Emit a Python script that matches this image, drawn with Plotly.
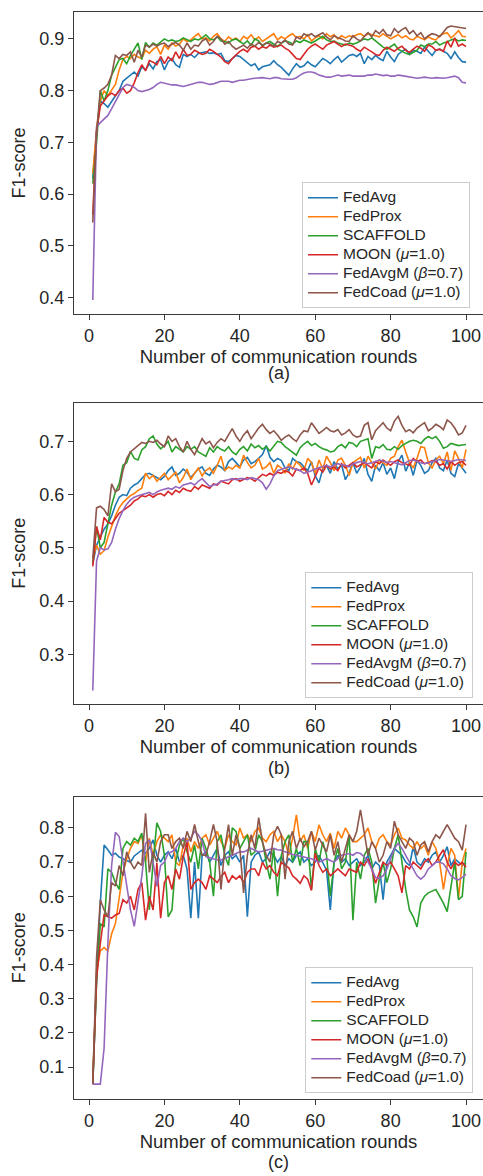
import plotly.graph_objects as go

rounds = list(range(1, 101))
series_names = ["FedAvg", "FedProx", "SCAFFOLD", "MOON (<i>μ</i>=1.0)",
                "FedAvgM (<i>β</i>=0.7)", "FedCoad (<i>μ</i>=1.0)"]
colors = ["#1f77b4", "#ff7f0e", "#2ca02c", "#d62728", "#9467bd", "#8c564b"]
panel_labels = ["(a)", "(b)", "(c)"]
x_ticks = [0, 20, 40, 60, 80, 100]
y_ticks_a = [0.4, 0.5, 0.6, 0.7, 0.8, 0.9]
y_ticks_b = [0.3, 0.4, 0.5, 0.6, 0.7]
y_ticks_c = [0.1, 0.2, 0.3, 0.4, 0.5, 0.6, 0.7, 0.8]

# ---------------- panel (a) ----------------
a_fedavg = [0.630,0.720,0.780,0.775,0.768,0.780,0.790,0.800,0.818,0.824,
            0.830,0.836,0.828,0.846,0.840,0.852,0.842,0.856,0.860,0.840,
            0.856,0.862,0.850,0.845,0.870,0.866,0.870,0.864,0.872,0.874,
            0.875,0.872,0.873,0.870,0.872,0.858,0.856,0.862,0.868,0.866,
            0.860,0.855,0.848,0.852,0.840,0.846,0.848,0.850,0.858,0.850,
            0.845,0.838,0.830,0.842,0.852,0.845,0.848,0.856,0.850,0.846,
            0.855,0.862,0.858,0.852,0.860,0.866,0.855,0.862,0.868,0.870,
            0.866,0.872,0.852,0.866,0.860,0.868,0.862,0.858,0.876,0.865,
            0.856,0.870,0.876,0.880,0.870,0.878,0.876,0.872,0.884,0.876,
            0.868,0.878,0.880,0.876,0.872,0.862,0.875,0.864,0.856,0.855]
a_fedprox = [0.640,0.725,0.780,0.800,0.790,0.800,0.812,0.840,0.860,0.866,
             0.862,0.870,0.865,0.862,0.878,0.872,0.880,0.885,0.870,0.888,
             0.880,0.892,0.886,0.890,0.900,0.895,0.898,0.905,0.910,0.900,
             0.902,0.896,0.905,0.910,0.900,0.895,0.904,0.898,0.902,0.895,
             0.905,0.900,0.908,0.898,0.904,0.895,0.900,0.906,0.910,0.898,
             0.904,0.900,0.906,0.910,0.902,0.905,0.900,0.908,0.896,0.902,
             0.906,0.900,0.910,0.904,0.908,0.900,0.906,0.902,0.906,0.904,
             0.908,0.910,0.905,0.910,0.908,0.906,0.904,0.910,0.905,0.900,
             0.904,0.908,0.902,0.906,0.900,0.898,0.905,0.902,0.898,0.904,
             0.900,0.898,0.906,0.910,0.912,0.902,0.908,0.916,0.905,0.904]
a_scaffold = [0.620,0.700,0.800,0.780,0.800,0.830,0.845,0.860,0.862,0.852,
              0.868,0.880,0.892,0.860,0.893,0.884,0.892,0.888,0.895,0.900,
              0.896,0.898,0.895,0.897,0.902,0.898,0.895,0.900,0.898,0.902,
              0.908,0.900,0.898,0.904,0.896,0.895,0.892,0.898,0.900,0.895,
              0.890,0.896,0.888,0.900,0.896,0.886,0.892,0.895,0.890,0.885,
              0.892,0.896,0.894,0.890,0.896,0.893,0.898,0.895,0.892,0.896,
              0.900,0.905,0.898,0.895,0.896,0.892,0.890,0.888,0.892,0.890,
              0.892,0.896,0.900,0.898,0.902,0.896,0.890,0.884,0.880,0.885,
              0.890,0.880,0.876,0.872,0.870,0.874,0.878,0.888,0.885,0.890,
              0.890,0.895,0.888,0.892,0.894,0.898,0.900,0.896,0.898,0.897]
a_moon = [0.560,0.720,0.770,0.780,0.790,0.795,0.790,0.800,0.805,0.795,
          0.800,0.815,0.835,0.850,0.838,0.858,0.855,0.850,0.866,0.852,
          0.865,0.858,0.875,0.862,0.880,0.868,0.870,0.878,0.874,0.870,
          0.872,0.880,0.876,0.870,0.865,0.856,0.852,0.862,0.870,0.876,
          0.880,0.875,0.884,0.886,0.880,0.885,0.882,0.888,0.884,0.886,
          0.888,0.882,0.878,0.870,0.862,0.860,0.870,0.880,0.886,0.890,
          0.885,0.880,0.888,0.892,0.895,0.890,0.885,0.890,0.888,0.886,
          0.880,0.876,0.884,0.880,0.875,0.870,0.868,0.878,0.884,0.880,
          0.876,0.882,0.886,0.878,0.874,0.880,0.886,0.882,0.876,0.888,
          0.885,0.878,0.880,0.876,0.896,0.884,0.902,0.886,0.890,0.885]
a_avgm = [0.395,0.730,0.738,0.745,0.752,0.765,0.778,0.792,0.806,0.812,
          0.810,0.806,0.800,0.798,0.800,0.802,0.806,0.812,0.816,0.814,
          0.812,0.811,0.811,0.810,0.808,0.810,0.812,0.814,0.816,0.816,
          0.814,0.812,0.813,0.815,0.818,0.818,0.818,0.816,0.818,0.820,
          0.820,0.822,0.823,0.824,0.825,0.825,0.824,0.823,0.825,0.825,
          0.823,0.822,0.822,0.822,0.825,0.830,0.834,0.836,0.836,0.834,
          0.830,0.828,0.826,0.826,0.828,0.830,0.828,0.829,0.830,0.828,
          0.828,0.827,0.828,0.830,0.830,0.832,0.830,0.829,0.830,0.828,
          0.828,0.830,0.829,0.828,0.826,0.826,0.824,0.825,0.826,0.825,
          0.824,0.825,0.824,0.824,0.825,0.826,0.828,0.825,0.816,0.815]
a_coad = [0.545,0.720,0.800,0.805,0.812,0.830,0.868,0.862,0.870,0.868,
          0.875,0.855,0.878,0.865,0.888,0.884,0.890,0.886,0.890,0.892,
          0.885,0.890,0.893,0.888,0.878,0.892,0.880,0.888,0.886,0.896,
          0.900,0.888,0.895,0.905,0.900,0.890,0.895,0.886,0.880,0.884,
          0.888,0.882,0.890,0.886,0.893,0.888,0.892,0.890,0.886,0.895,
          0.892,0.898,0.890,0.888,0.904,0.900,0.910,0.906,0.910,0.904,
          0.908,0.912,0.904,0.898,0.906,0.902,0.900,0.896,0.895,0.906,
          0.900,0.896,0.905,0.912,0.904,0.916,0.910,0.918,0.908,0.906,
          0.920,0.912,0.918,0.922,0.910,0.916,0.906,0.912,0.900,0.906,
          0.910,0.908,0.904,0.912,0.922,0.925,0.924,0.922,0.921,0.920]

# ---------------- panel (b) ----------------
b_fedavg = [0.470,0.505,0.520,0.535,0.545,0.560,0.580,0.595,0.600,0.598,
            0.612,0.618,0.622,0.630,0.638,0.640,0.636,0.632,0.628,0.634,
            0.645,0.652,0.636,0.640,0.648,0.642,0.632,0.640,0.648,0.652,
            0.640,0.636,0.648,0.655,0.652,0.645,0.662,0.668,0.660,0.652,
            0.665,0.670,0.658,0.662,0.668,0.675,0.692,0.670,0.662,0.668,
            0.664,0.650,0.645,0.668,0.662,0.660,0.652,0.645,0.662,0.635,
            0.622,0.648,0.655,0.640,0.662,0.648,0.656,0.628,0.641,0.660,
            0.640,0.652,0.668,0.638,0.625,0.655,0.645,0.660,0.638,0.650,
            0.630,0.662,0.674,0.644,0.660,0.636,0.664,0.655,0.640,0.645,
            0.660,0.668,0.650,0.645,0.665,0.640,0.634,0.658,0.650,0.640]
b_fedprox = [0.480,0.505,0.488,0.495,0.520,0.540,0.560,0.575,0.585,0.592,
             0.598,0.602,0.608,0.612,0.640,0.630,0.636,0.625,0.632,0.640,
             0.628,0.635,0.642,0.622,0.632,0.648,0.628,0.640,0.650,0.635,
             0.645,0.650,0.640,0.655,0.672,0.645,0.652,0.648,0.655,0.650,
             0.674,0.660,0.650,0.655,0.668,0.648,0.652,0.660,0.640,0.655,
             0.650,0.640,0.658,0.648,0.662,0.655,0.645,0.668,0.660,0.640,
             0.665,0.648,0.672,0.660,0.645,0.665,0.668,0.655,0.636,0.660,
             0.665,0.670,0.650,0.672,0.660,0.648,0.665,0.660,0.655,0.668,
             0.672,0.690,0.702,0.680,0.660,0.650,0.668,0.690,0.688,0.660,
             0.650,0.665,0.672,0.658,0.680,0.645,0.682,0.668,0.650,0.685]
b_scaffold = [0.470,0.540,0.500,0.510,0.545,0.580,0.605,0.620,0.655,0.660,
              0.681,0.668,0.665,0.684,0.690,0.705,0.710,0.695,0.686,0.692,
              0.700,0.680,0.690,0.685,0.680,0.690,0.685,0.690,0.680,0.676,
              0.672,0.688,0.680,0.690,0.685,0.682,0.690,0.680,0.675,0.685,
              0.690,0.682,0.695,0.688,0.692,0.685,0.690,0.682,0.690,0.700,
              0.698,0.690,0.685,0.680,0.674,0.688,0.695,0.700,0.692,0.696,
              0.690,0.686,0.684,0.680,0.682,0.690,0.694,0.688,0.698,0.696,
              0.690,0.700,0.702,0.705,0.668,0.690,0.688,0.694,0.685,0.684,
              0.690,0.685,0.692,0.696,0.700,0.702,0.700,0.696,0.704,0.709,
              0.705,0.709,0.700,0.687,0.690,0.696,0.694,0.692,0.693,0.694]
b_moon = [0.465,0.540,0.515,0.557,0.548,0.545,0.555,0.565,0.570,0.575,
          0.580,0.588,0.592,0.598,0.596,0.600,0.595,0.600,0.602,0.598,
          0.606,0.600,0.608,0.604,0.612,0.608,0.606,0.615,0.610,0.618,
          0.615,0.612,0.620,0.618,0.625,0.622,0.620,0.628,0.630,0.625,
          0.628,0.632,0.630,0.625,0.632,0.638,0.635,0.640,0.636,0.642,
          0.640,0.645,0.642,0.635,0.648,0.645,0.650,0.640,0.618,0.635,
          0.650,0.642,0.655,0.648,0.652,0.645,0.658,0.650,0.655,0.660,
          0.652,0.656,0.660,0.655,0.650,0.662,0.658,0.665,0.660,0.655,
          0.662,0.665,0.660,0.658,0.655,0.668,0.662,0.665,0.658,0.660,
          0.664,0.662,0.655,0.658,0.648,0.662,0.655,0.660,0.662,0.655]
b_avgm = [0.232,0.475,0.500,0.496,0.498,0.510,0.535,0.555,0.570,0.582,
          0.590,0.595,0.598,0.600,0.602,0.604,0.600,0.605,0.608,0.610,
          0.612,0.610,0.615,0.612,0.618,0.620,0.622,0.618,0.625,0.630,
          0.622,0.615,0.618,0.620,0.625,0.626,0.628,0.630,0.628,0.630,
          0.630,0.628,0.632,0.630,0.628,0.622,0.610,0.620,0.635,0.645,
          0.648,0.650,0.652,0.650,0.648,0.645,0.640,0.642,0.645,0.648,
          0.650,0.652,0.655,0.652,0.655,0.658,0.656,0.655,0.652,0.658,
          0.660,0.662,0.660,0.658,0.660,0.662,0.665,0.663,0.660,0.662,
          0.660,0.658,0.656,0.660,0.664,0.665,0.662,0.660,0.658,0.660,
          0.662,0.664,0.666,0.665,0.664,0.662,0.664,0.666,0.665,0.664]
b_coad = [0.480,0.575,0.578,0.572,0.560,0.620,0.605,0.610,0.645,0.668,
          0.680,0.686,0.692,0.698,0.696,0.700,0.698,0.702,0.695,0.690,
          0.710,0.700,0.705,0.690,0.680,0.700,0.685,0.675,0.690,0.705,
          0.695,0.700,0.688,0.698,0.705,0.700,0.712,0.724,0.710,0.700,
          0.712,0.720,0.705,0.715,0.725,0.732,0.722,0.715,0.720,0.712,
          0.702,0.708,0.712,0.705,0.700,0.712,0.720,0.718,0.735,0.725,
          0.715,0.720,0.726,0.720,0.718,0.722,0.712,0.716,0.722,0.712,
          0.708,0.710,0.730,0.735,0.703,0.720,0.728,0.735,0.725,0.720,
          0.738,0.747,0.730,0.718,0.722,0.716,0.725,0.730,0.735,0.720,
          0.725,0.732,0.728,0.722,0.740,0.735,0.725,0.712,0.716,0.730]

# ---------------- panel (c) ----------------
c_fedavg = [0.050,0.350,0.580,0.750,0.736,0.720,0.726,0.715,0.710,0.705,
            0.700,0.718,0.726,0.735,0.726,0.740,0.765,0.720,0.700,0.720,
            0.730,0.710,0.740,0.700,0.720,0.680,0.536,0.700,0.536,0.720,
            0.730,0.700,0.720,0.740,0.690,0.720,0.730,0.710,0.720,0.700,
            0.720,0.540,0.700,0.720,0.730,0.700,0.710,0.730,0.720,0.700,
            0.716,0.690,0.710,0.700,0.720,0.730,0.700,0.710,0.690,0.700,
            0.720,0.700,0.677,0.560,0.700,0.720,0.700,0.710,0.690,0.700,
            0.710,0.690,0.700,0.720,0.680,0.700,0.690,0.590,0.700,0.720,
            0.740,0.730,0.720,0.700,0.690,0.745,0.700,0.690,0.710,0.700,
            0.720,0.730,0.700,0.720,0.745,0.690,0.710,0.700,0.690,0.697]
c_fedprox = [0.060,0.380,0.440,0.450,0.440,0.490,0.520,0.590,0.670,0.710,
             0.740,0.760,0.755,0.780,0.700,0.770,0.720,0.760,0.780,0.770,
             0.760,0.780,0.700,0.690,0.750,0.770,0.730,0.760,0.740,0.770,
             0.780,0.750,0.770,0.790,0.760,0.740,0.780,0.760,0.750,0.800,
             0.770,0.780,0.760,0.790,0.800,0.770,0.760,0.780,0.790,0.760,
             0.780,0.760,0.720,0.770,0.838,0.760,0.780,0.740,0.790,0.760,
             0.809,0.780,0.760,0.785,0.740,0.790,0.770,0.800,0.780,0.760,
             0.760,0.770,0.780,0.800,0.760,0.740,0.770,0.780,0.760,0.750,
             0.780,0.800,0.770,0.765,0.750,0.740,0.760,0.740,0.750,0.720,
             0.760,0.740,0.700,0.620,0.690,0.740,0.720,0.595,0.700,0.740]
c_scaffold = [0.050,0.350,0.520,0.510,0.680,0.670,0.640,0.620,0.740,0.760,
              0.750,0.770,0.760,0.785,0.700,0.560,0.700,0.815,0.790,0.720,
              0.540,0.560,0.700,0.750,0.770,0.730,0.700,0.750,0.680,0.770,
              0.740,0.700,0.600,0.760,0.780,0.720,0.690,0.800,0.790,0.740,
              0.760,0.780,0.720,0.730,0.780,0.760,0.700,0.650,0.740,0.600,
              0.720,0.760,0.780,0.700,0.740,0.690,0.760,0.760,0.620,0.740,
              0.700,0.760,0.720,0.600,0.700,0.740,0.680,0.700,0.780,0.530,
              0.700,0.650,0.720,0.740,0.700,0.580,0.650,0.700,0.640,0.680,
              0.740,0.780,0.700,0.620,0.560,0.540,0.510,0.580,0.600,0.610,
              0.615,0.620,0.600,0.580,0.555,0.630,0.700,0.590,0.600,0.730]
c_moon = [0.050,0.360,0.462,0.546,0.540,0.536,0.545,0.550,0.590,0.580,
          0.600,0.560,0.620,0.640,0.530,0.600,0.560,0.697,0.536,0.640,
          0.660,0.620,0.680,0.650,0.716,0.760,0.620,0.640,0.650,0.640,
          0.620,0.660,0.650,0.640,0.658,0.670,0.640,0.660,0.650,0.660,
          0.640,0.670,0.680,0.680,0.660,0.700,0.680,0.690,0.670,0.660,
          0.700,0.690,0.683,0.660,0.650,0.638,0.660,0.650,0.617,0.726,
          0.690,0.670,0.680,0.660,0.670,0.680,0.670,0.660,0.680,0.676,
          0.670,0.700,0.690,0.710,0.680,0.638,0.670,0.700,0.690,0.700,
          0.680,0.660,0.610,0.690,0.680,0.700,0.690,0.680,0.700,0.710,
          0.690,0.700,0.720,0.736,0.700,0.680,0.700,0.690,0.700,0.685]
c_avgm = [0.050,0.050,0.050,0.155,0.460,0.690,0.787,0.775,0.700,0.638,
          0.560,0.512,0.580,0.658,0.755,0.765,0.700,0.629,0.690,0.700,
          0.726,0.730,0.740,0.760,0.770,0.760,0.770,0.790,0.780,0.760,
          0.716,0.712,0.708,0.706,0.706,0.710,0.715,0.720,0.725,0.730,
          0.730,0.735,0.740,0.735,0.730,0.732,0.735,0.738,0.740,0.736,
          0.735,0.730,0.725,0.722,0.720,0.718,0.715,0.712,0.710,0.705,
          0.700,0.705,0.710,0.705,0.700,0.710,0.720,0.722,0.725,0.720,
          0.728,0.725,0.715,0.700,0.680,0.655,0.652,0.660,0.680,0.710,
          0.740,0.755,0.740,0.720,0.700,0.680,0.660,0.650,0.660,0.680,
          0.690,0.700,0.700,0.695,0.680,0.660,0.652,0.648,0.655,0.665]
c_coad = [0.050,0.420,0.590,0.560,0.540,0.640,0.630,0.690,0.660,0.730,
          0.700,0.680,0.700,0.690,0.843,0.670,0.730,0.700,0.760,0.780,
          0.780,0.740,0.760,0.770,0.740,0.790,0.760,0.810,0.760,0.720,
          0.720,0.760,0.810,0.760,0.620,0.740,0.810,0.720,0.780,0.740,
          0.610,0.720,0.780,0.740,0.830,0.760,0.720,0.700,0.780,0.805,
          0.780,0.650,0.760,0.790,0.740,0.770,0.745,0.760,0.790,0.735,
          0.770,0.750,0.730,0.780,0.720,0.760,0.700,0.740,0.780,0.760,
          0.790,0.853,0.780,0.720,0.760,0.740,0.700,0.720,0.760,0.740,
          0.820,0.780,0.760,0.740,0.770,0.760,0.720,0.750,0.760,0.730,
          0.760,0.780,0.770,0.790,0.810,0.790,0.770,0.760,0.735,0.810]

panels = [
    [a_fedavg, a_fedprox, a_scaffold, a_moon, a_avgm, a_coad],
    [b_fedavg, b_fedprox, b_scaffold, b_moon, b_avgm, b_coad],
    [c_fedavg, c_fedprox, c_scaffold, c_moon, c_avgm, c_coad],
]
y_ticks = [y_ticks_a, y_ticks_b, y_ticks_c]

# ---------------- layout geometry (pixels of 483x1176 page) ----------------
W, H = 483, 1176
FONT = "Liberation Sans, Arial, Helvetica, sans-serif"
TXT = "#262626"
AXC = "#3a3a3a"
plot_px = [(12, 314), (402.7, 704), (796.7, 1099)]        # top, bottom of each plot area
y_ranges = [[0.368, 0.952], [0.2066, 0.7726], [0.0064, 0.8915]]
legend_px = [(470, 308.3), (473.3, 698.3), (473.3, 1093.3)]  # right, bottom
caption_py = [373, 768, 1162]
x_dom = [74 / W, 1.0]
x_range = [-3.98, 104.5]
LEG_TXT = 15.5   # visible legend text size
LEG_ROW = 10.7   # legend font size that sets the row pitch (~17 px)

fig = go.Figure()
layout = dict(
    width=W, height=H, margin=dict(l=0, r=0, t=0, b=0),
    paper_bgcolor="white", plot_bgcolor="white",
    font=dict(family=FONT, size=18, color=TXT),
    annotations=[],
)

for p in range(3):
    sfx = "" if p == 0 else str(p + 1)
    leg = "legend" if p == 0 else f"legend{p + 1}"
    for s in range(6):
        fig.add_trace(go.Scatter(
            x=rounds, y=panels[p][s], mode="lines",
            name=f'<span style="font-size:{LEG_TXT}px">{series_names[s]}</span>',
            line=dict(color=colors[s], width=1.6),
            xaxis="x" + sfx, yaxis="y" + sfx, legend=leg,
        ))
    top, bot = plot_px[p]
    layout["xaxis" + sfx] = dict(
        domain=x_dom, range=x_range, anchor="y" + sfx,
        tickvals=x_ticks, ticks="outside", ticklen=5, tickwidth=1.2,
        tickcolor=AXC, showline=True, linecolor=AXC, linewidth=1.3,
        mirror=True, showgrid=False, zeroline=False,
        tickfont=dict(size=18, color=TXT),
        title=dict(text="Number of communication rounds", standoff=0,
                   font=dict(size=18.5, color=TXT)),
    )
    layout["yaxis" + sfx] = dict(
        domain=[1 - bot / H, 1 - top / H], range=y_ranges[p], anchor="x" + sfx,
        tickvals=y_ticks[p], tickformat=".1f", ticks="outside", ticklen=5,
        tickwidth=1.2, tickcolor=AXC, showline=True, linecolor=AXC,
        linewidth=1.3, mirror=False, showgrid=False, zeroline=False,
        tickfont=dict(size=18, color=TXT),
        title=dict(text="F1-score", standoff=8, font=dict(size=18, color=TXT)),
    )
    lx, ly = legend_px[p]
    layout[leg] = dict(
        x=lx / W, y=1 - ly / H, xanchor="right", yanchor="bottom",
        xref="paper", yref="paper",
        bgcolor="rgba(255,255,255,0.85)", bordercolor="#cccccc", borderwidth=1,
        font=dict(size=LEG_ROW, color=TXT, family=FONT),
        tracegroupgap=0, itemwidth=30,
    )
    layout["annotations"].append(dict(
        text=panel_labels[p], x=278.5 / W, y=1 - caption_py[p] / H,
        xref="paper", yref="paper", xanchor="center", yanchor="middle",
        showarrow=False, font=dict(size=18, color=TXT, family=FONT),
    ))

fig.update_layout(**layout)
fig.write_html("out.html")
